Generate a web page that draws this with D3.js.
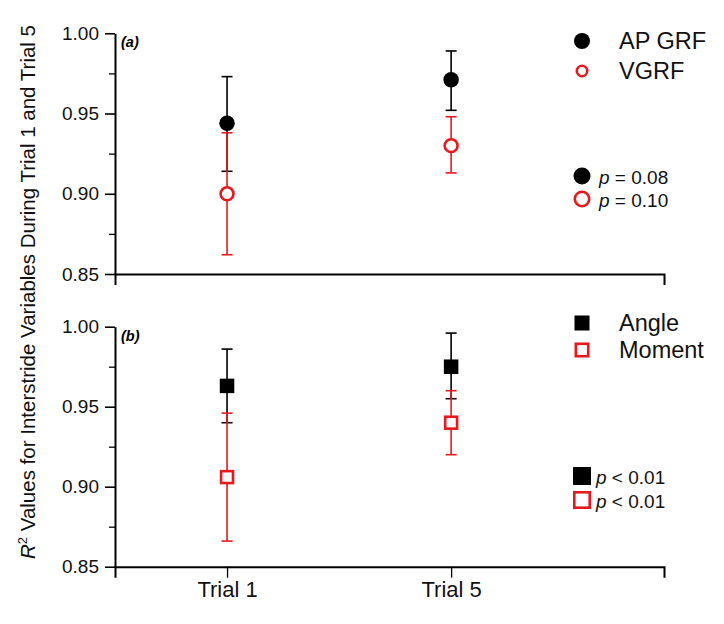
<!DOCTYPE html>
<html>
<head>
<meta charset="utf-8">
<script src="https://cdn.jsdelivr.net/npm/d3@7"></script>
<style>
  body { margin: 0; background: #fff; }
  svg { font-family: "Liberation Sans", Arial, sans-serif; }
</style>
</head>
<body>
<svg id="chart" width="724" height="624"></svg>
<script>
// ---- data ----
const trials = ["Trial 1", "Trial 5"];
const yTicks = [0.85, 0.90, 0.95, 1.00];
const yMinorTicks = [0.875, 0.925, 0.975];

// panel (a)
const apGrfMean = [0.944, 0.971];
const apGrfUpper = [0.973, 0.989];
const apGrfLower = [0.914, 0.952];
const vgrfMean = [0.900, 0.930];
const vgrfUpper = [0.938, 0.948];
const vgrfLower = [0.862, 0.913];

// panel (b)
const angleMean = [0.963, 0.975];
const angleUpper = [0.986, 0.996];
const angleLower = [0.940, 0.955];
const momentMean = [0.906, 0.940];
const momentUpper = [0.946, 0.960];
const momentLower = [0.866, 0.920];

const legendA = ["AP GRF", "VGRF"];
const pLabelsA = ["= 0.08", "= 0.10"];
const legendB = ["Angle", "Moment"];
const pLabelsB = ["< 0.01", "< 0.01"];

const RED = "#e8191c";

const svg = d3.select("#chart");
const x = d3.scaleLinear().domain([0.5, 2.95]).range([115, 664]);

const panels = [
  { label: "(a)", top: 33.3, bottom: 274, shape: "circle", xTicks: false,
    series: [
      { mean: apGrfMean, up: apGrfUpper, lo: apGrfLower, color: "#000", filled: true },
      { mean: vgrfMean, up: vgrfUpper, lo: vgrfLower, color: RED, filled: false }
    ],
    legend: legendA, pLabels: pLabelsA,
    legY: [41, 71], pY: [176, 199] },
  { label: "(b)", top: 326.7, bottom: 566.7, shape: "square", xTicks: true,
    series: [
      { mean: angleMean, up: angleUpper, lo: angleLower, color: "#000", filled: true },
      { mean: momentMean, up: momentUpper, lo: momentLower, color: RED, filled: false }
    ],
    legend: legendB, pLabels: pLabelsB,
    legY: [323, 350], pY: [476, 500] }
];

function drawMarker(g, shape, cx, cy, size, color, filled) {
  if (shape === "circle") {
    g.append("circle").attr("cx", cx).attr("cy", cy)
      .attr("r", filled ? size / 2 : size / 2 - 1.3)
      .attr("fill", filled ? color : "#fff")
      .attr("stroke", color).attr("stroke-width", filled ? 0 : 2.6);
  } else {
    const s = filled ? size : size - 2.6;
    g.append("rect").attr("x", cx - s / 2).attr("y", cy - s / 2)
      .attr("width", s).attr("height", s)
      .attr("fill", filled ? color : "#fff")
      .attr("stroke", color).attr("stroke-width", filled ? 0 : 2.6);
  }
}

panels.forEach(p => {
  const y = d3.scaleLinear().domain([0.85, 1.00]).range([p.bottom, p.top]);
  const g = svg.append("g");

  // y axis major
  const yAxis = d3.axisLeft(y).tickValues(yTicks).tickFormat(d3.format(".2f"))
    .tickSize(10).tickSizeOuter(0).tickPadding(6);
  const ya = g.append("g").attr("transform", `translate(${x.range()[0]},0)`).call(yAxis);
  ya.select(".domain").attr("stroke-width", 2);
  ya.selectAll(".tick line").attr("stroke-width", 1.6);
  ya.selectAll(".tick text").attr("font-size", 19).attr("fill", "#111");
  // minor
  const yMinor = d3.axisLeft(y).tickValues(yMinorTicks).tickFormat("").tickSize(6).tickSizeOuter(0);
  const ym = g.append("g").attr("transform", `translate(${x.range()[0]},0)`).call(yMinor);
  ym.select(".domain").remove();
  ym.selectAll(".tick line").attr("stroke-width", 1.3);

  // x axis
  const xAxis = d3.axisBottom(x).tickSizeOuter(0).tickSize(11).tickPadding(4)
    .tickValues(p.xTicks ? [1, 2] : []).tickFormat((d, i) => trials[i]);
  const xa = g.append("g").attr("transform", `translate(0,${p.bottom})`).call(xAxis);
  xa.select(".domain").attr("stroke-width", 2);
  xa.selectAll(".tick line").attr("stroke-width", 1.3);
  xa.selectAll(".tick text").attr("font-size", 22).attr("fill", "#111");

  // panel label
  g.append("text").attr("x", 121).attr("y", p.top + 14)
    .attr("font-size", 14.5).attr("font-weight", "bold").attr("font-style", "italic")
    .text(p.label);

  // error bars
  p.series.forEach(s => {
    trials.forEach((t, i) => {
      const cx = x(i + 1);
      g.append("line").attr("x1", cx).attr("x2", cx)
        .attr("y1", y(s.up[i])).attr("y2", y(s.lo[i]))
        .attr("stroke", s.color).attr("stroke-width", 1.6);
      [s.up[i], s.lo[i]].forEach(v => {
        g.append("line").attr("x1", cx - 5.5).attr("x2", cx + 5.5)
          .attr("y1", y(v)).attr("y2", y(v))
          .attr("stroke", s.color).attr("stroke-width", 1.6);
      });
    });
  });
  // markers
  p.series.forEach(s => {
    trials.forEach((t, i) => {
      drawMarker(g, p.shape, x(i + 1), y(s.mean[i]), p.shape === "circle" ? 15.5 : 14.5, s.color, s.filled);
    });
  });

  // legend
  p.series.forEach((s, i) => {
    const size = p.shape === "circle" ? (s.filled ? 16 : 13) : 15;
    drawMarker(g, p.shape, 582, p.legY[i], size, s.color, s.filled);
    g.append("text").attr("x", 619).attr("y", p.legY[i] + 8)
      .attr("font-size", 23.5).attr("fill", "#111").text(p.legend[i]);
  });
  p.series.forEach((s, i) => {
    const size = p.shape === "circle" ? 17 : 18;
    drawMarker(g, p.shape, 582, p.pY[i], size, s.color, s.filled);
    const t = g.append("text").attr("x", p.shape === "circle" ? 599 : 596).attr("y", p.pY[i] + 7.5)
      .attr("font-size", 19).attr("fill", "#111");
    t.append("tspan").attr("font-style", "italic").text("p");
    t.append("tspan").text(" " + p.pLabels[i]);
  });
});

// y title
const yt = svg.append("text")
  .attr("transform", "translate(35,292) rotate(-90)")
  .attr("text-anchor", "middle").attr("font-size", 20.5).attr("fill", "#111");
yt.append("tspan").attr("font-style", "italic").text("R");
yt.append("tspan").attr("font-size", 13).attr("dy", -8).text("2");
yt.append("tspan").attr("dy", 8).text(" Values for Interstride Variables During Trial 1 and Trial 5");
</script>
</body>
</html>
